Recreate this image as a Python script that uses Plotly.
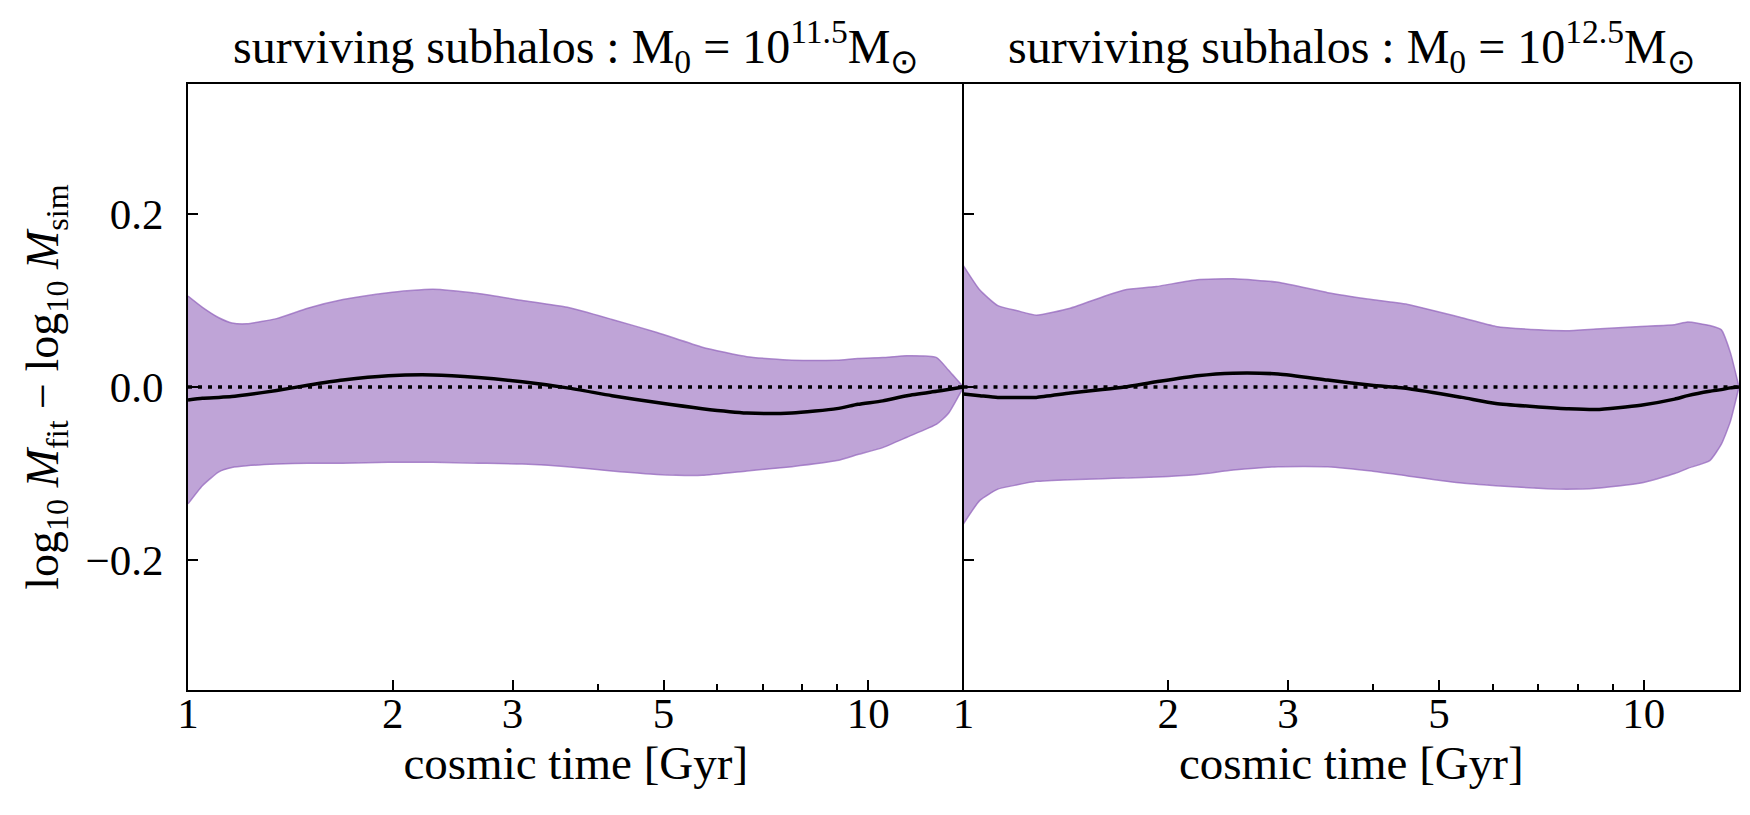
import numpy as np
import plotly.graph_objects as go
from plotly.subplots import make_subplots

# ---- data ----
t_left = [1.0, 1.05, 1.11, 1.16, 1.22, 1.35, 1.5, 1.69, 1.97, 2.29, 2.67, 3.1, 3.61,
          4.2, 4.89, 5.7, 6.63, 7.72, 8.99, 9.65, 10.5, 11.4, 12.6, 13.1, 13.8]
upper_left = [0.105, 0.092, 0.080, 0.074, 0.073, 0.079, 0.091, 0.101, 0.109, 0.113, 0.108,
              0.100, 0.092, 0.078, 0.063, 0.046, 0.035, 0.031, 0.031, 0.033, 0.034, 0.036,
              0.034, 0.020, 0.0]
lower_left = [-0.135, -0.114, -0.098, -0.093, -0.091, -0.089, -0.088, -0.088, -0.087, -0.087,
              -0.088, -0.089, -0.092, -0.097, -0.101, -0.102, -0.097, -0.092, -0.085, -0.078,
              -0.070, -0.058, -0.043, -0.031, 0.0]
median_left = [-0.015, -0.013, -0.012, -0.011, -0.009, -0.004, 0.002, 0.008, 0.013, 0.014,
               0.011, 0.006, -0.001, -0.010, -0.018, -0.025, -0.030, -0.030, -0.025, -0.020,
               -0.016, -0.010, -0.005, -0.003, 0.0]

t_right = [1.0, 1.057, 1.123, 1.2, 1.279, 1.435, 1.6, 1.724, 1.92, 2.205, 2.49, 2.9, 3.43,
           3.98, 4.52, 5.4, 6.06, 7.0, 7.7, 8.5, 9.9, 11.1, 11.6, 12.5, 13.0, 13.4, 13.8]
upper_right = [0.140, 0.112, 0.094, 0.088, 0.083, 0.091, 0.104, 0.112, 0.116, 0.124, 0.125,
               0.121, 0.109, 0.101, 0.095, 0.080, 0.070, 0.066, 0.065, 0.067, 0.070, 0.072,
               0.075, 0.071, 0.066, 0.040, 0.0]
lower_right = [-0.158, -0.131, -0.118, -0.113, -0.109, -0.107, -0.106, -0.105, -0.104, -0.101,
               -0.096, -0.092, -0.092, -0.097, -0.103, -0.111, -0.114, -0.117, -0.118, -0.117,
               -0.111, -0.100, -0.094, -0.085, -0.066, -0.040, 0.0]
median_right = [-0.008, -0.010, -0.012, -0.012, -0.012, -0.007, -0.003, 0.0, 0.006, 0.013,
                0.016, 0.015, 0.008, 0.002, -0.002, -0.012, -0.019, -0.023, -0.025, -0.026,
                -0.021, -0.014, -0.010, -0.005, -0.003, -0.001, 0.0]

titles = ["surviving subhalos : M<sub>0</sub> = 10<sup>11.5</sup>M<sub>\u2299</sub>",
          "surviving subhalos : M<sub>0</sub> = 10<sup>12.5</sup>M<sub>\u2299</sub>"]
x_tickvals = [1, 2, 3, 5, 10]
x_ticktext = ["1", "2", "3", "5", "10"]
x_minor = [4, 6, 7, 8, 9]
y_tickvals = [-0.2, 0.0, 0.2]
y_ticktext = ["\u22120.2", "0.0", "0.2"]
t_max = 13.8

FONT = "Liberation Serif"
band_fill = "rgba(148,103,189,0.6)"
band_edge = "rgba(148,103,189,0.75)"

fig = make_subplots(rows=1, cols=2, shared_yaxes=True, horizontal_spacing=0)

panels = [(t_left, upper_left, lower_left, median_left),
          (t_right, upper_right, lower_right, median_right)]
for i, (t, up, lo, med) in enumerate(panels):
    col = i + 1
    fig.add_trace(go.Scatter(x=t, y=lo, mode="lines", line=dict(color=band_edge, width=1.5, shape="spline", smoothing=0.5),
                             showlegend=False, hoverinfo="skip"), row=1, col=col)
    fig.add_trace(go.Scatter(x=t, y=up, mode="lines", fill="tonexty", fillcolor=band_fill,
                             line=dict(color=band_edge, width=1.5, shape="spline", smoothing=0.5),
                             showlegend=False, hoverinfo="skip"), row=1, col=col)
    fig.add_hline(y=0, line=dict(color="black", width=3.5, dash="4px,6px"), row=1, col=col)
    fig.add_trace(go.Scatter(x=t, y=med, mode="lines", line=dict(color="black", width=3.5, shape="spline", smoothing=0.6),
                             showlegend=False, hoverinfo="skip"), row=1, col=col)

axis_common = dict(showline=True, linecolor="black", linewidth=2,
                   ticks="inside", tickcolor="black", tickwidth=2, showgrid=False, zeroline=False,
                   tickfont=dict(family=FONT, size=43, color="black"))

for col in (1, 2):
    fig.update_xaxes(type="log", range=[0, np.log10(t_max)], tickmode="array",
                     tickvals=x_tickvals, ticktext=x_ticktext, ticklen=10, mirror=True,
                     minor=dict(tickmode="array", tickvals=x_minor, ticks="inside", ticklen=6,
                                tickwidth=1.5, tickcolor="black", showgrid=False),
                     title=dict(text="cosmic time [Gyr]", font=dict(family=FONT, size=47, color="black"), standoff=6),
                     ticklabelstandoff=-16,
                     **axis_common, row=1, col=col)

fig.update_yaxes(range=[-0.35, 0.35], tickmode="array", tickvals=y_tickvals, ticktext=y_ticktext,
                 ticklen=10, mirror=False, **axis_common, row=1, col=1)
fig.update_yaxes(range=[-0.35, 0.35], tickmode="array", tickvals=y_tickvals, ticktext=y_ticktext,
                 ticklen=10, mirror=True, **axis_common, row=1, col=2)

fig.update_yaxes(title=dict(text="log<sub>10</sub> <i>M</i><sub>fit</sub> \u2212 log<sub>10</sub> <i>M</i><sub>sim</sub>",
                            font=dict(family=FONT, size=46, color="black"), standoff=12),
                 ticklabelstandoff=14, row=1, col=1)

fig.update_layout(
    width=1750, height=815,
    margin=dict(l=180, r=19, t=76, b=133),
    paper_bgcolor="white", plot_bgcolor="white",
    font=dict(family=FONT, color="black"),
)

# panel titles
for i, txt in enumerate(titles):
    xa = "x domain" if i == 0 else "x2 domain"
    fig.add_annotation(text=txt, xref=xa, yref="paper", x=0.5, y=1.0, yshift=2,
                       xanchor="center", yanchor="bottom", showarrow=False,
                       font=dict(family=FONT, size=48, color="black"))

fig.write_html("out.html")
